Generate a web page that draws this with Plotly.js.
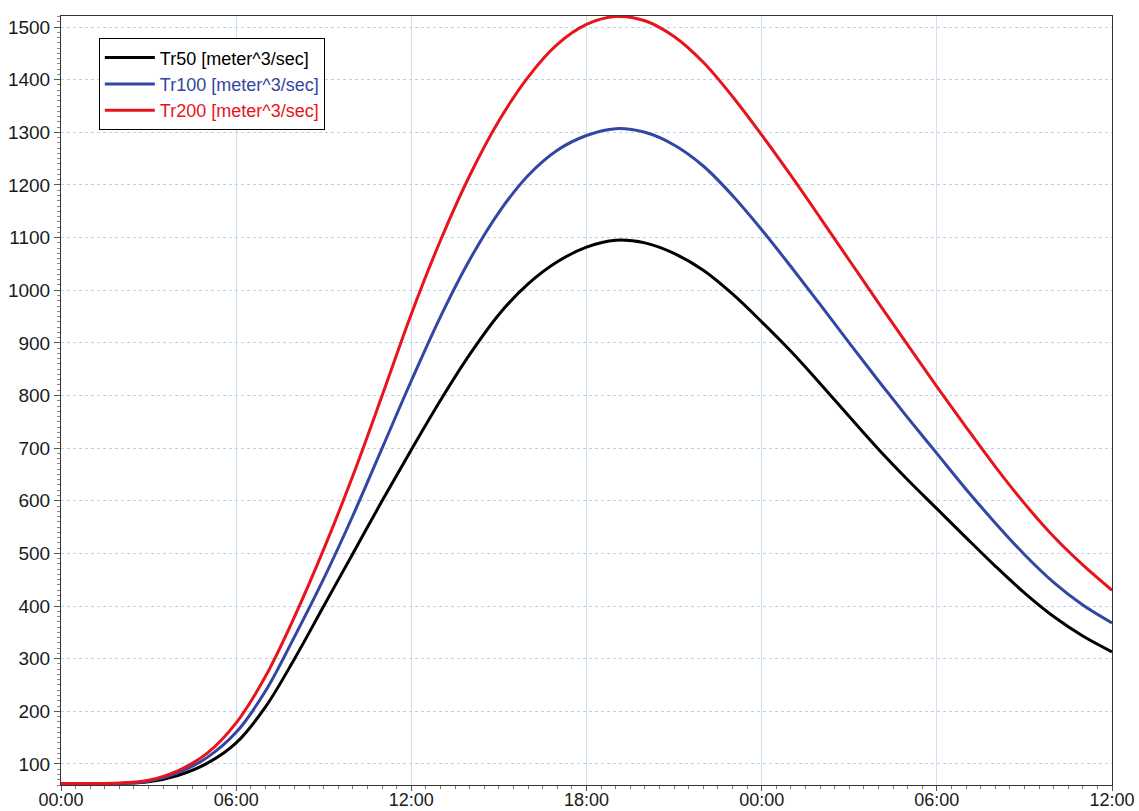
<!DOCTYPE html>
<html><head><meta charset="utf-8">
<script src="https://cdn.plot.ly/plotly-3.0.1.min.js"></script>
<style>html,body{margin:0;padding:0;background:#fff}</style>
</head><body><div id="chart" style="width:1139px;height:811px"></div>
<script>
// time in hours from start (00:00 day 1 to 12:00 day 2)
const hours = [0,1,2,3,4,5,6,7,8,9,10,11,12,13,14,15,16,17,18,19,20,21,22,23,24,25,26,27,28,29,30,31,32,33,34,35,36];
const tr50  = [63,63,63,66,78,101,140,208,300,400,500,600,697,791,878,954,1012,1054,1082,1095,1090,1070,1038,993,940,884,823,760,698,640,585,530,476,425,380,343,313];
const tr100 = [63,63,63,67,83,112,160,238,342,452,572,700,828,950,1058,1148,1218,1266,1294,1307,1300,1276,1236,1180,1115,1045,973,900,828,758,690,622,558,498,445,402,368];
const tr200 = [63,63,64,69,87,120,178,266,380,508,648,800,955,1095,1218,1322,1405,1467,1505,1520,1512,1482,1433,1368,1295,1218,1138,1057,976,896,817,740,665,595,532,478,430];
const seriesNames = ['Tr50 [meter^3/sec]','Tr100 [meter^3/sec]','Tr200 [meter^3/sec]'];
const seriesColors = ['#000000','#3346a3','#e8141c'];
const xTickVals = [0,6,12,18,24,30,36];
const xTickText = ['00:00','06:00','12:00','18:00','00:00','06:00','12:00'];
const yTickVals = [100,200,300,400,500,600,700,800,900,1000,1100,1200,1300,1400,1500];

const allY = [tr50, tr100, tr200];
const traces = allY.map((ys, i) => ({
  x: hours, y: ys, type: 'scatter', mode: 'lines',
  name: '<span style="color:' + seriesColors[i] + '">' + seriesNames[i] + '</span>',
  line: {color: seriesColors[i], width: 3, shape: 'spline', smoothing: 1}
}));

const font = {family: 'Liberation Sans, Arial, sans-serif', size: 19, color: '#1a1a1a'};
const xfont = {family: 'Liberation Sans, Arial, sans-serif', size: 18, color: '#1a1a1a'};
const layout = {
  width: 1139, height: 811,
  margin: {l: 61, r: 27, t: 16, b: 26},
  paper_bgcolor: '#ffffff', plot_bgcolor: '#ffffff',
  font: font,
  showlegend: true,
  legend: {
    x: 0.036, y: 0.971, xanchor: 'left', yanchor: 'top',
    bgcolor: '#ffffff', bordercolor: '#000000', borderwidth: 1,
    font: {family: 'Liberation Sans, Arial, sans-serif', size: 18, color: '#000'},
    itemwidth: 50, tracegroupgap: 0
  },
  xaxis: {
    range: [0, 36], tickvals: xTickVals, ticktext: xTickText,
    showgrid: true, gridcolor: '#cfe0ef', gridwidth: 1,
    zeroline: false, showline: true, linecolor: '#333333', linewidth: 1, mirror: true,
    ticks: 'outside', ticklen: 5, tickcolor: '#555555', ticklabelstandoff: -7,
    minor: {dtick: 0.5, tick0: 0, ticks: 'outside', ticklen: 3, tickcolor: '#777777', showgrid: false},
    automargin: false, tickfont: xfont
  },
  yaxis: {
    range: [60, 1521], tickvals: yTickVals,
    showgrid: true, gridcolor: '#b9d3ea', gridwidth: 1, griddash: 'dot',
    zeroline: false, showline: true, linecolor: '#333333', linewidth: 1, mirror: true,
    ticks: 'outside', ticklen: 6, tickcolor: '#555555',
    minor: {dtick: 10, tick0: 0, ticks: 'outside', ticklen: 3, tickcolor: '#888888', showgrid: false},
    automargin: false, tickfont: font
  }
};
Plotly.newPlot('chart', traces, layout, {staticPlot: true, displayModeBar: false});
</script>
</body></html>
